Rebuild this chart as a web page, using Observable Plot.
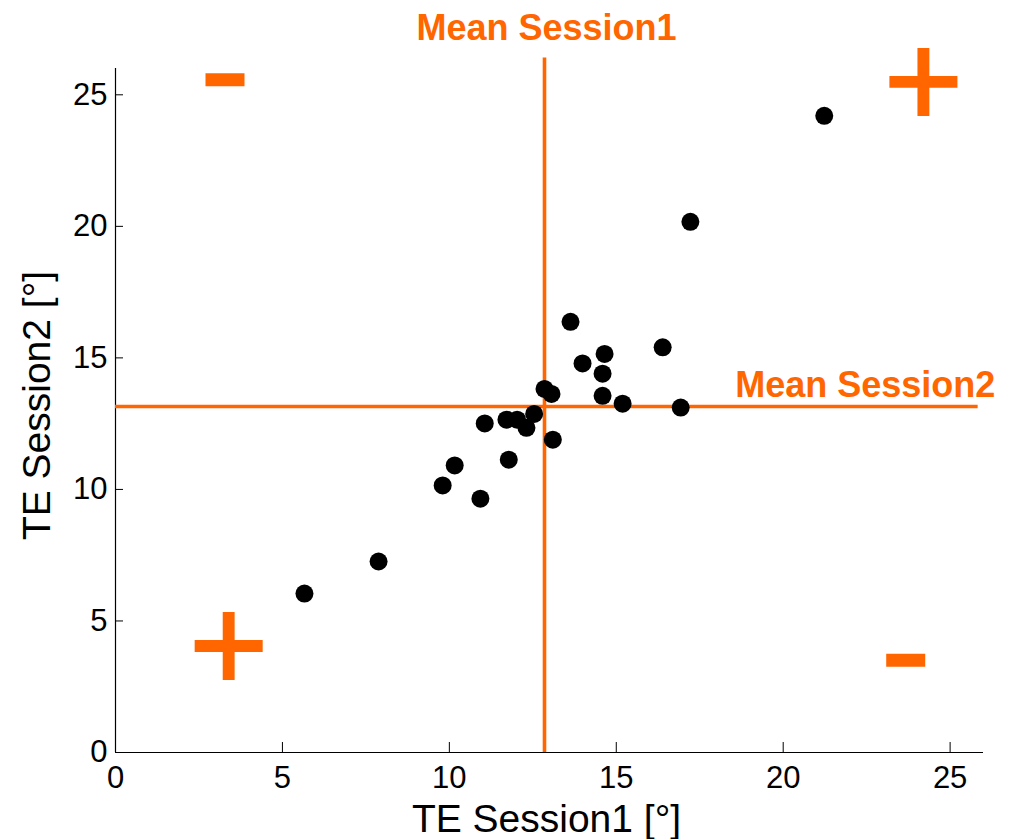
<!DOCTYPE html>
<html>
<head>
<meta charset="utf-8">
<script src="https://cdn.jsdelivr.net/npm/d3@7"></script>
<script src="https://cdn.jsdelivr.net/npm/@observablehq/plot@0.6"></script>
<style>
  html, body { margin: 0; padding: 0; background: #fff; }
  #chart svg { display: block; }
</style>
</head>
<body>
<div id="chart"></div>
<script>
// ---- data ----
const session1 = [5.66, 7.88, 9.80, 10.16, 10.93, 11.06, 11.78, 11.71, 12.03, 12.31, 12.54, 12.85, 13.06, 13.10, 13.63, 13.99, 14.59, 14.65, 14.59, 15.19, 16.39, 16.93, 17.22, 21.23];
const session2 = [6.04, 7.26, 10.15, 10.91, 9.65, 12.51, 11.13, 12.65, 12.65, 12.34, 12.87, 13.82, 13.63, 11.89, 16.37, 14.79, 14.40, 15.15, 13.56, 13.26, 15.40, 13.11, 20.17, 24.20];
const meanSession1 = 12.85;
const meanSession2 = 13.15;
const xTicks = [0, 5, 10, 15, 20, 25];
const yTicks = [0, 5, 10, 15, 20, 25];
const xDomain = [0, 26];
const yDomain = [0, 26];
const meanLine1Top = 26.4;     // vertical mean line reaches slightly above the frame
const meanLine2Right = 25.84;  // horizontal mean line end
const label1 = "Mean Session1";
const label2 = "Mean Session2";
const label2X = 22.46;
const xTitle = "TE Session1 [°]";
const yTitle = "TE Session2 [°]";
// quadrant sign annotations
const plusX = [24.20, 3.39];
const plusY = [25.49, 4.05];
const minusX = [3.28, 23.67];
const minusY = [25.57, 3.51];

const ORANGE = "#FF6600";
const points = session1.map((x, i) => ({x, y: session2[i]}));
const plusPts = plusX.map((x, i) => ({x, y: plusY[i]}));
const minusPts = minusX.map((x, i) => ({x, y: minusY[i]}));

// custom symbols
const plusSymbol = {
  draw(ctx, size) {
    const r = Math.sqrt(size / Math.PI);
    const t = r * 0.175;
    ctx.rect(-r, -t, 2 * r, 2 * t);
    ctx.rect(-t, -r, 2 * t, 2 * r);
  }
};
const minusSymbol = {
  draw(ctx, size) {
    const r = Math.sqrt(size / Math.PI);
    const t = r / 3;
    ctx.rect(-r, -t, 2 * r, 2 * t);
  }
};

const chart = Plot.plot({
  width: 1012,
  height: 839,
  marginLeft: 115,
  marginRight: 29,
  marginTop: 68,
  marginBottom: 87,
  style: {fontFamily: "'Liberation Sans', Arial, sans-serif", color: "black", background: "white", overflow: "visible"},
  x: {domain: xDomain},
  y: {domain: yDomain},
  marks: [
    Plot.axisX({ticks: xTicks, tickSize: 10, dy: -10, tickPadding: 13, fontSize: 31, label: null, tickFormat: d => d}),
    Plot.axisY({ticks: yTicks, tickSize: 8, dx: 8, tickPadding: 8, fontSize: 31, label: null, tickFormat: d => d}),
    Plot.ruleY([0], {stroke: "black", strokeWidth: 1.2}),
    Plot.ruleX([0], {stroke: "black", strokeWidth: 1.2}),
    Plot.ruleX([meanSession1], {x: d => d, y1: 0, y2: meanLine1Top, stroke: ORANGE, strokeWidth: 3.6}),
    Plot.ruleY([meanSession2], {y: d => d, x1: 0, x2: meanLine2Right, stroke: ORANGE, strokeWidth: 3.6}),
    Plot.dot(points, {x: "x", y: "y", r: 9, fill: "black", stroke: "none"}),
    Plot.dot(plusPts, {x: "x", y: "y", r: 34, symbol: plusSymbol, fill: ORANGE, stroke: "none"}),
    Plot.dot(minusPts, {x: "x", y: "y", r: 19.5, symbol: minusSymbol, fill: ORANGE, stroke: "none"}),
    Plot.text([label1], {x: () => meanSession1, frameAnchor: "top", text: d => d, fontSize: 36, fontWeight: "bold", fill: ORANGE, textAnchor: "middle", lineAnchor: "middle", dy: -40.5, dx: 2}),
    Plot.text([label2], {x: () => label2X, y: () => meanSession2, text: d => d, fontSize: 36, fontWeight: "bold", fill: ORANGE, textAnchor: "middle", lineAnchor: "middle", dy: -21.4}),
    Plot.text([xTitle], {frameAnchor: "bottom", text: d => d, fontSize: 39, textAnchor: "middle", lineAnchor: "middle", dy: 67.5, dx: -3, fill: "black"}),
    Plot.text([yTitle], {frameAnchor: "left", text: d => d, fontSize: 39, rotate: -90, textAnchor: "middle", lineAnchor: "middle", dx: -78, dy: -5, fill: "black"})
  ]
});
document.getElementById("chart").appendChild(chart);
</script>
</body>
</html>
